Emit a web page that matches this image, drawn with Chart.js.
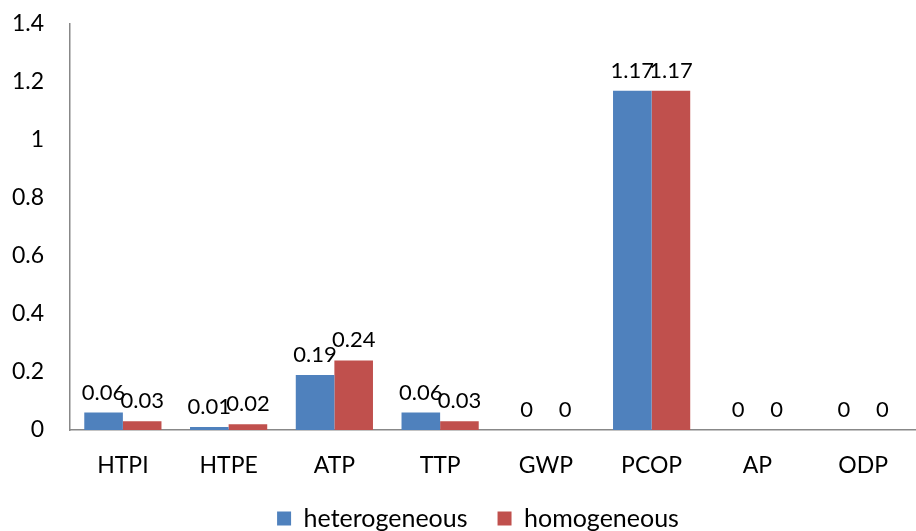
<!DOCTYPE html>
<html><head><meta charset="utf-8">
<script src="https://cdn.jsdelivr.net/npm/chart.js@4/dist/chart.umd.min.js"></script>
<style>html,body{margin:0;padding:0;background:#fff;overflow:hidden}#w{width:916px;height:531px}</style>
</head><body><div id="w"><canvas id="c"></canvas></div>
<script>
const categories = ["HTPI","HTPE","ATP","TTP","GWP","PCOP","AP","ODP"];
const heterogeneous = [0.06,0.01,0.19,0.06,0,1.17,0,0];
const homogeneous = [0.03,0.02,0.24,0.03,0,1.17,0,0];
const yTicks = [0,0.2,0.4,0.6,0.8,1,1.2,1.4];
const FONT = "Lato, 'Open Sans', sans-serif";

const labelPlugin = {
  id:'barLabels',
  afterLayout(chart){
    const lg = chart.legend;
    if (lg){ lg.left += 20; lg.right += 20; lg.top += 10; lg.bottom += 10; }
    const xs = chart.scales.x;
    if (xs){ xs.bottom += 30; xs.height += 30; }
  },
  afterDatasetsDraw(chart){
    const ctx = chart.ctx;
    ctx.save();
    ctx.font = "22px " + FONT;
    ctx.fillStyle = "#000";
    ctx.textAlign = "center";
    ctx.textBaseline = "alphabetic";
    chart.data.datasets.forEach((ds,i)=>{
      chart.getDatasetMeta(i).data.forEach((bar,j)=>{
        ctx.fillText(String(ds.data[j]), bar.x, bar.y - 13);
      });
    });
    ctx.restore();
  }
};

new Chart(document.getElementById('c'), {
  type:'bar',
  data:{labels:categories, datasets:[
    {label:'heterogeneous', data:heterogeneous, backgroundColor:'#4F81BD', borderWidth:0},
    {label:'homogeneous', data:homogeneous, backgroundColor:'#C0504D', borderWidth:0}
  ]},
  options:{
    responsive:true, maintainAspectRatio:false, animation:false,
    layout:{padding:{top:0,left:0,right:0,bottom:0}},
    datasets:{bar:{categoryPercentage:0.73, barPercentage:1}},
    plugins:{
      legend:{position:'bottom', labels:{font:{family:FONT,size:25}, color:'#000', boxWidth:14, boxHeight:14, padding:30}},
      tooltip:{enabled:false}
    },
    scales:{
      x:{grid:{display:false, drawTicks:false}, border:{display:true,color:'#888',width:1.5},
         ticks:{font:{family:FONT,size:23}, color:'#000', padding:22},
         afterFit(s){ s.height = 36; }},
      y:{min:0,max:1.4, afterBuildTicks(ax){ax.ticks = yTicks.map(v=>({value:v}));},
         grid:{display:false, drawTicks:false}, border:{display:true,color:'#888',width:1.5},
         ticks:{font:{family:FONT,size:23}, color:'#000', padding:26, callback:v=>String(v)},
         afterFit(s){ s.width = 70; s.paddingTop = 24; s.paddingBottom = 0; }}
    }
  },
  plugins:[labelPlugin]
});
</script></body></html>
